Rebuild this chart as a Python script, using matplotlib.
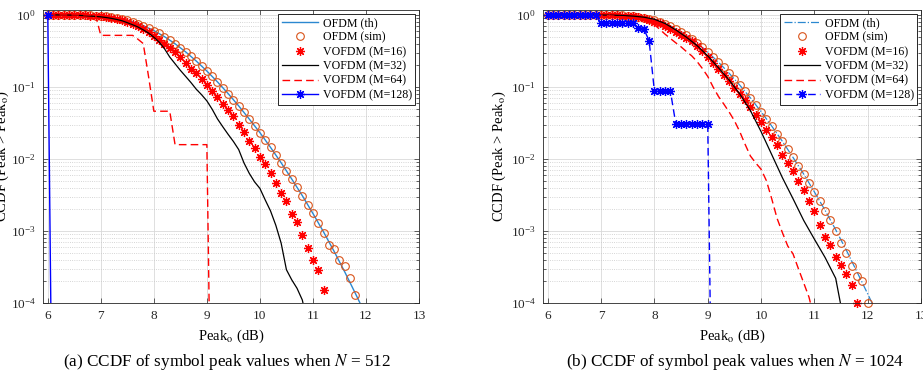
import numpy as np
import matplotlib
matplotlib.use('Agg')
import matplotlib.pyplot as plt
from matplotlib.ticker import LogLocator, NullFormatter

plt.rcParams['font.family'] = ['Liberation Serif', 'DejaVu Serif']
plt.rcParams['mathtext.fontset'] = 'stix'
plt.rcParams['lines.linewidth'] = 1

# ---------------- (a) N = 512 ----------------
x_th_a = np.round(np.arange(6.0, 12.01, 0.2), 1)
th_a = [1.0, 0.9996, 0.9985, 0.9950, 0.9861, 0.9668, 0.9322, 0.8781, 0.8029, 0.7103,
        0.6058, 0.4993, 0.3977, 0.3065, 0.2287, 0.1662, 0.1174, 0.0810, 0.0545, 0.0358,
        0.0232, 0.0145, 0.00886, 0.00527, 0.00309, 0.00175, 0.00097, 0.00052, 0.00027,
        0.000136, 0.000067]

x_sim_a = np.round(np.arange(6.0, 11.81, 0.1), 1)
sim_a = [1.0, 0.9998, 0.9996, 0.9993, 0.9985, 0.9972, 0.9950, 0.9915, 0.9861, 0.9781,
         0.9668, 0.9517, 0.9322, 0.9077, 0.8781, 0.8426, 0.8029, 0.7581, 0.7103, 0.6590,
         0.6058, 0.5524, 0.4993, 0.4475, 0.3977, 0.3508, 0.3065, 0.2658, 0.2287, 0.1959,
         0.1662, 0.1402, 0.1174, 0.0981, 0.0810, 0.0667, 0.0545, 0.0443, 0.0358, 0.0288,
         0.0232, 0.0184, 0.0145, 0.0114, 0.00886, 0.00686, 0.00527, 0.00404, 0.00309, 0.00232,
         0.00175, 0.00130, 0.00095, 0.00064, 0.00056, 0.00040, 0.00033, 0.00022, 0.00013]

x_m16_a = np.round(np.arange(6.0, 11.21, 0.1), 1)
m16_a = [1.0, 1.0, 0.9995, 0.999, 0.998, 0.996, 0.993, 0.988, 0.981, 0.971,
         0.957, 0.938, 0.912, 0.880, 0.842, 0.797, 0.747, 0.693, 0.635, 0.575,
         0.512, 0.450, 0.395, 0.350, 0.310, 0.262, 0.215, 0.180, 0.155, 0.130,
         0.108, 0.089, 0.072, 0.058, 0.048, 0.039, 0.030, 0.024, 0.018, 0.014,
         0.0108, 0.0085, 0.0064, 0.0046, 0.0034, 0.0026, 0.0017, 0.00135, 0.00088, 0.00058,
         0.00040, 0.00029, 0.00015]

x_m32_a = np.round(np.arange(6.0, 10.91, 0.1), 1)
m32_a = [1.0, 0.9995, 0.999, 0.997, 0.995, 0.991, 0.985, 0.976, 0.965, 0.953,
         0.94, 0.92, 0.895, 0.865, 0.83, 0.78, 0.73, 0.68, 0.62, 0.56,
         0.49, 0.42, 0.34, 0.26, 0.21, 0.17, 0.14, 0.115, 0.093, 0.078,
         0.064, 0.049, 0.036, 0.028, 0.022, 0.0175, 0.0135, 0.0088, 0.0063, 0.0048,
         0.0039, 0.0027, 0.0019, 0.0012, 0.00068, 0.00029, 0.00021, 0.00016, 0.00011, 0.00005]

x_m64_a = np.round(np.arange(6.0, 9.11, 0.1), 1)
m64_a = [1.0] * 10 + [0.52] * 7 + [0.46, 0.40, 0.14] + [0.046] * 4 + [0.0158] * 7 + [1e-7]

x_m128_a = [6.0, 6.1]
m128_a = [1.0, 1e-7]

# ---------------- (b) N = 1024 ----------------
x_th_b = np.round(np.arange(6.0, 12.21, 0.2), 1)
th_b = [1.0, 1.0, 1.0, 1.0, 0.9998, 0.9989, 0.9954, 0.9851, 0.9611, 0.9161,
        0.8446, 0.7492, 0.6372, 0.5186, 0.4049, 0.3048, 0.2211, 0.1554, 0.1060, 0.0704,
        0.0454, 0.0286, 0.01756, 0.01049, 0.00617, 0.00349, 0.00194, 0.00104, 0.00054,
        0.00027, 0.000134, 0.000065]

x_sim_b = np.round(np.arange(6.0, 12.01, 0.1), 1)
sim_b = [1.0, 1.0, 1.0, 1.0, 1.0, 1.0, 0.99998, 0.99993, 0.9998, 0.9995,
         0.9989, 0.9977, 0.9954, 0.9915, 0.9851, 0.9753, 0.9611, 0.9415, 0.9161, 0.8837,
         0.8446, 0.7997, 0.7492, 0.6948, 0.6372, 0.5781, 0.5186, 0.4611, 0.4049, 0.3535,
         0.3048, 0.2607, 0.2211, 0.1864, 0.1554, 0.1288, 0.1060, 0.0866, 0.0704, 0.0568,
         0.0454, 0.0362, 0.0286, 0.0225, 0.0176, 0.0136, 0.0105, 0.0081, 0.0062, 0.0046,
         0.0035, 0.0026, 0.0019, 0.0014, 0.00100, 0.00068, 0.00050, 0.00033, 0.00024, 0.00020,
         0.00010]

x_m16_b = np.round(np.arange(6.0, 11.81, 0.1), 1)
m16_b = [1.0, 1.0, 1.0, 1.0, 1.0, 1.0, 1.0, 0.9999, 0.9997, 0.9993,
         0.9985, 0.997, 0.994, 0.989, 0.981, 0.969, 0.952, 0.928, 0.897, 0.858,
         0.81, 0.76, 0.70, 0.64, 0.585, 0.53, 0.48, 0.43, 0.37, 0.32,
         0.26, 0.215, 0.18, 0.147, 0.12, 0.096, 0.079, 0.066, 0.053, 0.041,
         0.033, 0.025, 0.0204, 0.0156, 0.0115, 0.0088, 0.0068, 0.005, 0.0037, 0.0026,
         0.0019, 0.0012, 0.00083, 0.00064, 0.00044, 0.00034, 0.00025, 0.00018, 0.0001]

x_m32_b = np.r_[np.round(np.arange(6.0, 11.41, 0.2), 1), 11.5, 11.6]
m32_b = [1.0, 1.0, 0.9998, 0.9994, 0.998, 0.996, 0.991, 0.982, 0.963, 0.93,
         0.87, 0.76, 0.62, 0.49, 0.375, 0.27, 0.185, 0.125, 0.08, 0.047,
         0.024, 0.0115, 0.0055, 0.0028, 0.0014, 0.00077, 0.00043, 0.00022, 0.00009, 0.00004]

x_m64_b = np.round(np.arange(6.0, 11.01, 0.1), 1)
m64_b = [1.0, 1.0, 1.0, 0.9998, 0.9995, 0.999, 0.998, 0.996, 0.993, 0.989,
         0.984, 0.977, 0.968, 0.956, 0.94, 0.92, 0.895, 0.865, 0.83, 0.79,
         0.73, 0.63, 0.54, 0.47, 0.41, 0.36, 0.31, 0.27, 0.225, 0.18,
         0.14, 0.10, 0.074, 0.058, 0.045, 0.034, 0.024, 0.016, 0.011, 0.0088,
         0.0072, 0.005, 0.0028, 0.0015, 0.00095, 0.00062, 0.00048, 0.0003, 0.00019, 0.00012,
         0.00006]

x_m128_b = np.round(np.arange(6.0, 9.11, 0.1), 1)
m128_b = [1.0] * 10 + [0.77] * 7 + [0.65, 0.64, 0.44] + [0.087] * 4 + [0.031] * 7 + [1e-7]

labels = ['OFDM (th)', 'OFDM (sim)', 'VOFDM (M=16)', 'VOFDM (M=32)',
          'VOFDM (M=64)', 'VOFDM (M=128)']

c_th = '#2b88d0'
c_sim = '#D95319'
star = (8, 2, 0)
dash = (5.5, 3)

fig = plt.figure(figsize=(9.23, 3.70), dpi=100)
ax1 = fig.add_axes([43 / 923, 67 / 370, 376 / 923, 293 / 370])
ax2 = fig.add_axes([543 / 923, 67 / 370, 378 / 923, 293 / 370])


def style(ax):
    ax.set_yscale('log')
    ax.set_xlim(5.91, 13)
    ax.set_ylim(1e-4, 1.17)
    ax.set_xticks(range(6, 14))
    ax.yaxis.set_major_locator(LogLocator(base=10, numticks=10))
    ax.yaxis.set_minor_locator(LogLocator(base=10, subs=np.arange(2, 10), numticks=10))
    ax.yaxis.set_minor_formatter(NullFormatter())
    ax.grid(True, which='major', color='#d9d9d9', linewidth=0.6)
    ax.grid(True, which='minor', axis='y', color='#c8c8c8', linestyle=':', linewidth=0.6)
    ax.set_axisbelow(True)
    ax.tick_params(which='both', direction='in', top=True, right=True,
                   labelsize=9.5, colors='#262626', width=0.5, pad=5)
    ax.tick_params(which='major', length=3.5)
    ax.tick_params(which='minor', length=2)
    for s in ax.spines.values():
        s.set_color('#262626')
        s.set_linewidth(0.6)
    ax.set_xlabel('Peak$_{\\rm o}$ (dB)', fontsize=10.5)
    ax.xaxis.set_label_coords(0.5, -0.085)
    ax.set_ylabel('CCDF (Peak > Peak$_{\\rm o}$)', fontsize=10.5)
    leg = ax.legend(loc='upper right', fontsize=8.6, fancybox=False, framealpha=1,
                    edgecolor='#262626', handlelength=3.0, labelspacing=0.2,
                    borderpad=0.3, borderaxespad=0.3, handletextpad=0.4)
    leg.get_frame().set_linewidth(0.7)


# (a)
ax1.plot(x_th_a, th_a, '-', color=c_th, lw=1, label=labels[0])
ax1.plot(x_sim_a, sim_a, 'o', color=c_sim, mfc='none', ms=5.5, mew=0.8,
         clip_on=False, label=labels[1])
ax1.plot(x_m16_a, m16_a, linestyle='none', marker=star, color='r', ms=6.5, mew=0.9,
         clip_on=False, label=labels[2])
ax1.plot(x_m32_a, m32_a, 'k-', lw=0.9, label=labels[3])
ax1.plot(x_m64_a, m64_a, 'r--', lw=1, dashes=dash, label=labels[4])
ax1.plot(x_m128_a, m128_a, 'b-', marker=star, ms=6.5, mew=0.9, lw=1, label=labels[5])
style(ax1)
ax1.yaxis.set_label_coords(-0.085, 0.5)

# (b)
ax2.plot(x_th_b, th_b, '-.', color=c_th, lw=0.9, label=labels[0])
ax2.plot(x_sim_b, sim_b, 'o', color=c_sim, mfc='none', ms=5.5, mew=0.8,
         clip_on=False, label=labels[1])
ax2.plot(x_m16_b, m16_b, linestyle='none', marker=star, color='r', ms=6.5, mew=0.9,
         clip_on=False, label=labels[2])
ax2.plot(x_m32_b, m32_b, 'k-', lw=0.9, label=labels[3])
ax2.plot(x_m64_b, m64_b, 'r--', lw=1, dashes=dash, label=labels[4])
ax2.plot(x_m128_b, m128_b, 'b--', dashes=dash, marker=star, ms=6.5, mew=0.9, lw=1,
         label=labels[5])
style(ax2)
ax2.yaxis.set_label_coords(-0.093, 0.5)

fig.text(227 / 923, 0.012, '(a) CCDF of symbol peak values when $N$ = 512',
         ha='center', va='baseline', fontsize=12.3)
fig.text(735 / 923, 0.012, '(b) CCDF of symbol peak values when $N$ = 1024',
         ha='center', va='baseline', fontsize=12.3)

fig.savefig('out.png', dpi=100)
